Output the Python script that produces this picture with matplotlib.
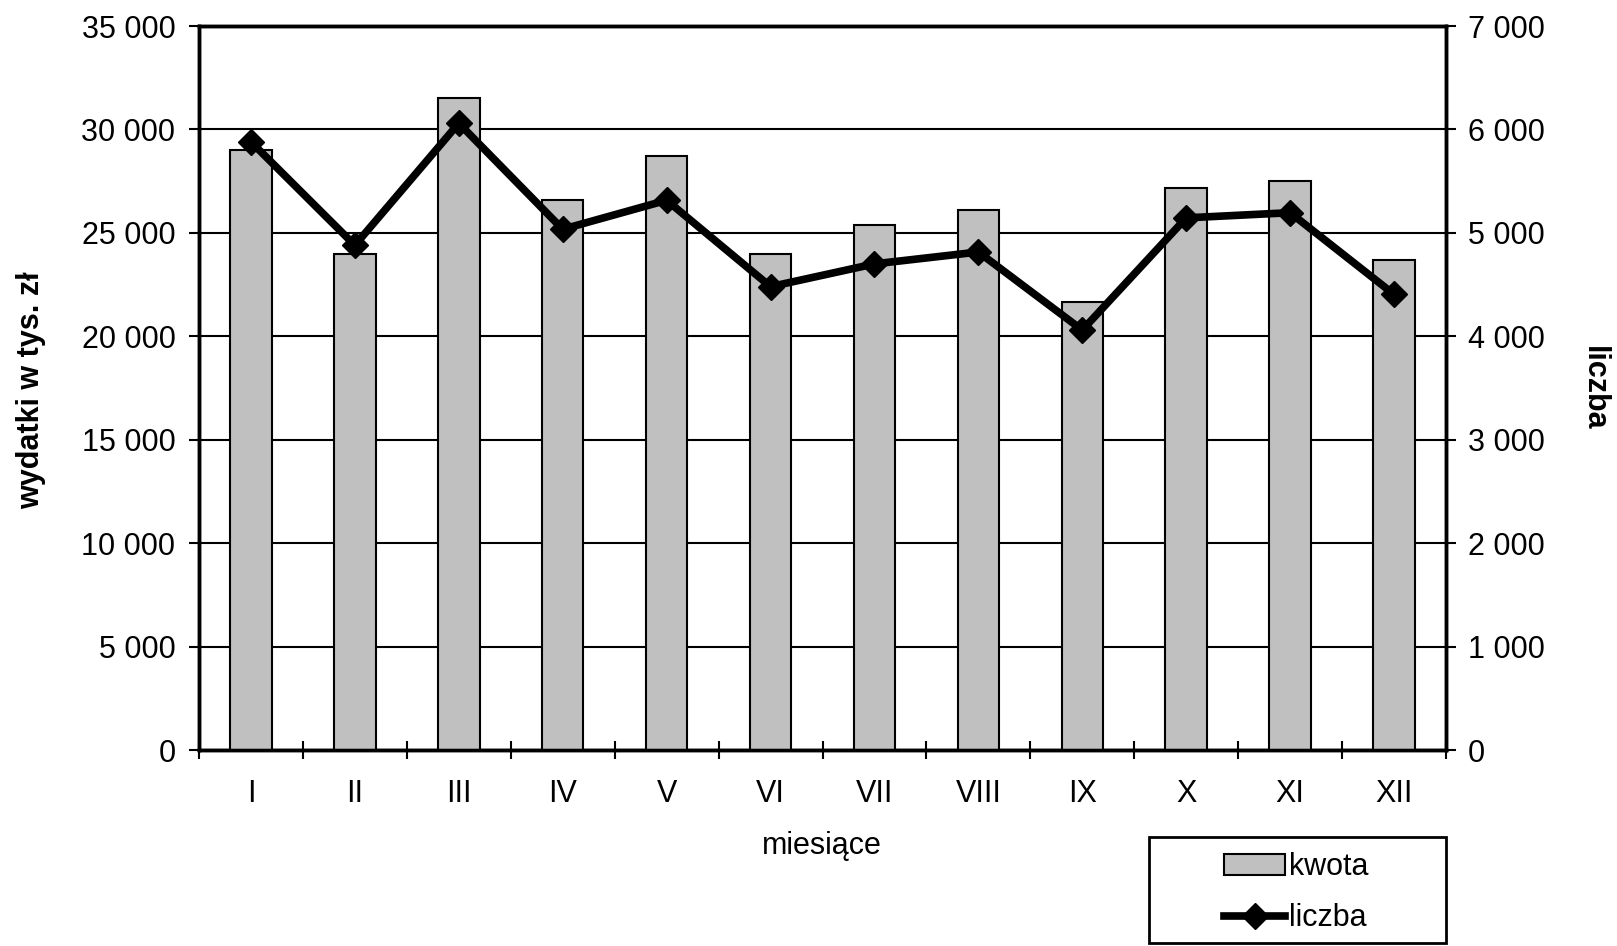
import matplotlib
matplotlib.use('Agg')
import numpy as np
import matplotlib.pyplot as plt
from matplotlib.ticker import FuncFormatter
from matplotlib.patches import Rectangle, Patch
from matplotlib.lines import Line2D

plt.rcParams['font.family'] = ['Liberation Sans', 'DejaVu Sans']

months = ['I', 'II', 'III', 'IV', 'V', 'VI', 'VII', 'VIII', 'IX', 'X', 'XI', 'XII']
kwota = [29000, 24000, 31500, 26600, 28700, 24000, 25400, 26100, 21650, 27150, 27500, 23700]
liczba = [5880, 4880, 6060, 5035, 5315, 4480, 4700, 4815, 4060, 5145, 5195, 4405]

W, H = 1617, 946
fig = plt.figure(figsize=(W / 100, H / 100), dpi=100)
L, R, T, B = 199, 1446, 26, 750
ax = fig.add_axes([L / W, 1 - B / H, (R - L) / W, (B - T) / H])

fmt = FuncFormatter(lambda v, p: f"{v:,.0f}".replace(",", " "))
FS = 22

x = np.arange(len(months))
ax.bar(x, kwota, width=0.4, color='#c0c0c0', edgecolor='black', linewidth=1.5, zorder=3)
ax.set_xlim(-0.5, len(months) - 0.5)
ax.set_ylim(0, 35000)
ax.set_yticks(np.arange(0, 35001, 5000))
ax.yaxis.set_major_formatter(fmt)
ax.yaxis.grid(True, color='black', linewidth=1.5)
ax.set_axisbelow(True)
ax.set_xticks(x)
ax.set_xticklabels(months)
ax.set_xticks(np.arange(-0.5, len(months), 1), minor=True)
ax.tick_params(axis='x', which='major', length=0, pad=21, labelsize=FS)
ax.tick_params(axis='x', which='minor', direction='inout', length=13, width=1.5)
ax.tick_params(axis='y', direction='out', length=7, width=1.5, pad=10, labelsize=FS)
for s in ax.spines.values():
    s.set_linewidth(2.5)

ax2 = ax.twinx()
ax2.set_ylim(0, 7000)
ax2.set_yticks(np.arange(0, 7001, 1000))
ax2.yaxis.set_major_formatter(fmt)
ax2.tick_params(axis='y', direction='out', length=7, width=1.5, pad=9, labelsize=FS)
for s in ax2.spines.values():
    s.set_linewidth(2.5)
ax2.plot(x, liczba, color='black', lw=5.5, marker='D', markersize=13, zorder=4)

fig.text(822 / W, 1 - 846 / H, 'miesiące', ha='center', va='center', fontsize=FS)
fig.text(31 / W, 1 - 390 / H, 'wydatki w tys. zł', ha='center', va='center',
         rotation=90, fontsize=FS, fontweight='bold')
fig.text(1594 / W, 1 - 388 / H, 'liczba', ha='center', va='center',
         rotation=-90, fontsize=FS, fontweight='bold')

# legend box
fig.patches.append(Rectangle((1149 / W, 1 - 943 / H), (1446 - 1149) / W, (943 - 837) / H,
                             transform=fig.transFigure, facecolor='white',
                             edgecolor='black', linewidth=2))
handles = [Patch(facecolor='#c0c0c0', edgecolor='black', linewidth=1.5),
           Line2D([], [], color='black', lw=5.5, marker='D', markersize=13)]
fig.legend(handles, ['kwota', 'liczba'], loc='upper left',
           bbox_to_anchor=(1224 / W, 1 - 852 / H), frameon=False, borderaxespad=0,
           borderpad=0, handlelength=2.0, handletextpad=0.12, labelspacing=0.7,
           fontsize=FS)

fig.savefig('out.png', dpi=100)
